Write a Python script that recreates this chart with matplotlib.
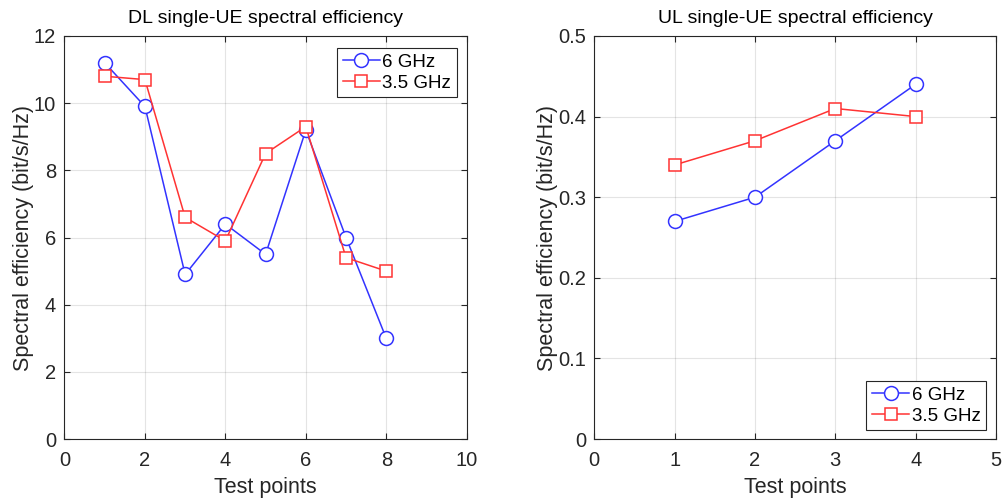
import matplotlib
matplotlib.use("Agg")
import matplotlib.pyplot as plt
from matplotlib.ticker import FuncFormatter

plt.rcParams['font.family'] = ['Liberation Sans', 'DejaVu Sans']

dl_x = [1, 2, 3, 4, 5, 6, 7, 8]
dl_6ghz = [11.2, 9.9, 4.9, 6.4, 5.5, 9.2, 6.0, 3.0]
dl_35ghz = [10.8, 10.7, 6.6, 5.9, 8.5, 9.3, 5.4, 5.0]

ul_x = [1, 2, 3, 4]
ul_6ghz = [0.27, 0.30, 0.37, 0.44]
ul_35ghz = [0.34, 0.37, 0.41, 0.40]

labels = ['6 GHz', '3.5 GHz']
axcol = (0.15, 0.15, 0.15)

fig = plt.figure(figsize=(10.03, 4.99), dpi=100)
ax1 = fig.add_axes([0.0643, 0.120, 0.401, 0.808])
ax2 = fig.add_axes([0.5925, 0.120, 0.4005, 0.808])

fmt = FuncFormatter(lambda v, p: ('%g' % round(v, 6)))

def style(ax, xlim, xticks, ylim, yticks, title, loc, anchor):
    ax.set_xlim(*xlim)
    ax.set_ylim(*ylim)
    ax.set_xticks(xticks)
    ax.set_yticks(yticks)
    ax.xaxis.set_major_formatter(fmt)
    ax.yaxis.set_major_formatter(fmt)
    ax.grid(True, color=(0.15, 0.15, 0.15), alpha=0.12, linewidth=0.8)
    ax.set_axisbelow(True)
    ax.tick_params(direction='in', length=4, color=axcol, labelcolor=axcol,
                   labelsize=14.5, top=True, right=True, width=0.8)
    ax.tick_params(axis='x', pad=8.5)
    ax.tick_params(axis='y', pad=6)
    for s in ax.spines.values():
        s.set_color(axcol)
        s.set_linewidth(0.8)
    ax.set_xlabel('Test points', fontsize=15.5, color=axcol, labelpad=5)
    ax.set_ylabel('Spectral efficiency (bit/s/Hz)', fontsize=15.5, color=axcol, labelpad=0)
    ax.set_title(title, fontsize=14, pad=9)
    leg = ax.legend(loc=loc, bbox_to_anchor=anchor, fontsize=13.5, fancybox=False,
                    framealpha=1, edgecolor=axcol, handlelength=2.0, borderpad=0.3,
                    labelspacing=0.2, handletextpad=0.12, borderaxespad=0)
    leg.get_frame().set_linewidth(0.8)

ax1.plot(dl_x, dl_6ghz, color='#3333ff', marker='o', markersize=10,
         markerfacecolor='white', markeredgewidth=1.1, linewidth=1.1, label=labels[0])
ax1.plot(dl_x, dl_35ghz, color='#ff3333', marker='s', markersize=8.5,
         markerfacecolor='white', markeredgewidth=1.1, linewidth=1.1, label=labels[1])
style(ax1, (0, 10), [0, 2, 4, 6, 8, 10], (0, 12), [0, 2, 4, 6, 8, 10, 12],
      'DL single-UE spectral efficiency', 'upper right', (0.975, 0.97))

ax2.plot(ul_x, ul_6ghz, color='#3333ff', marker='o', markersize=10,
         markerfacecolor='white', markeredgewidth=1.1, linewidth=1.1, label=labels[0])
ax2.plot(ul_x, ul_35ghz, color='#ff3333', marker='s', markersize=8.5,
         markerfacecolor='white', markeredgewidth=1.1, linewidth=1.1, label=labels[1])
style(ax2, (0, 5), [0, 1, 2, 3, 4, 5], (0, 0.5), [0, 0.1, 0.2, 0.3, 0.4, 0.5],
      'UL single-UE spectral efficiency', 'lower right', (0.975, 0.022))

fig.savefig('out.png', dpi=100)
